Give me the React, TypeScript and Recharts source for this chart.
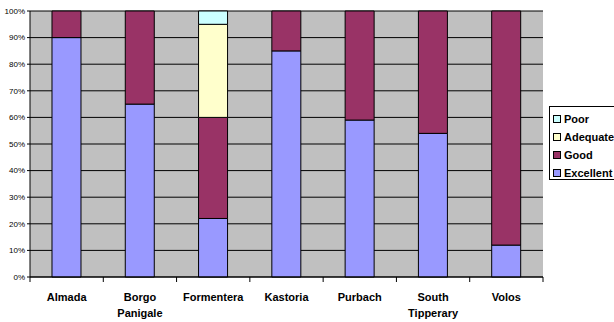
import React from 'react';
import { BarChart, Bar, XAxis, YAxis, CartesianGrid } from 'recharts';

const categories = ['Almada', 'Borgo Panigale', 'Formentera', 'Kastoria', 'Purbach', 'South Tipperary', 'Volos'];
const categoryLines: Record<string, string[]> = {
  'Almada': ['Almada'],
  'Borgo Panigale': ['Borgo', 'Panigale'],
  'Formentera': ['Formentera'],
  'Kastoria': ['Kastoria'],
  'Purbach': ['Purbach'],
  'South Tipperary': ['South', 'Tipperary'],
  'Volos': ['Volos'],
};
const excellent = [90, 65, 22, 85, 59, 54, 12];
const good = [10, 35, 38, 15, 41, 46, 88];
const adequate = [0, 0, 35, 0, 0, 0, 0];
const poor = [0, 0, 5, 0, 0, 0, 0];
const yTicks = [0, 10, 20, 30, 40, 50, 60, 70, 80, 90, 100];

const series = [
  { key: 'Excellent', values: excellent, color: '#9999FF' },
  { key: 'Good', values: good, color: '#993366' },
  { key: 'Adequate', values: adequate, color: '#FFFFCC' },
  { key: 'Poor', values: poor, color: '#CCFFFF' },
];

const data = categories.map((c, i) => {
  const row: Record<string, any> = { name: c };
  series.forEach((s) => (row[s.key] = s.values[i]));
  return row;
});

const FONT = 'Arial, "Liberation Sans", sans-serif';

const XTick = (props: any) => {
  const { x, y, payload, index } = props;
  const half = payload.offset || 0;
  const lines = categoryLines[payload.value] || [payload.value];
  return (
    <g>
      <line x1={x - half} x2={x - half} y1={y} y2={y + 5} stroke="#000" />
      {index === categories.length - 1 && (
        <line x1={x + half} x2={x + half} y1={y} y2={y + 5} stroke="#000" />
      )}
      {lines.map((l, i) => (
        <text
          key={i}
          x={x}
          y={y + 24 + i * 16}
          textAnchor="middle"
          fontFamily={FONT}
          fontWeight="bold"
          fontSize={11}
          fill="#000"
        >
          {l}
        </text>
      ))}
    </g>
  );
};

export default function App() {
  return (
    <div style={{ position: 'absolute', left: 0, top: 0, width: 614, height: 322, background: '#fff', overflow: 'hidden' }}>
      <BarChart
        width={614}
        height={322}
        data={data}
        margin={{ top: 11, right: 71, bottom: 0, left: 0 }}
        barCategoryGap="30%"
      >
        <CartesianGrid horizontal vertical={false} stroke="#000" fill="#C0C0C0" />
        <XAxis
          dataKey="name"
          axisLine={{ stroke: '#000' }}
          tickLine={false}
          tickSize={0}
          tickMargin={0}
          tick={<XTick />}
          interval={0}
          height={45}
        />
        <YAxis
          domain={[0, 100]}
          ticks={yTicks}
          width={30}
          tickSize={3}
          tickMargin={2}
          axisLine={{ stroke: '#000' }}
          tickLine={{ stroke: '#000' }}
          tickFormatter={(v: number) => `${v}%`}
          tick={{ fontSize: 8, fontFamily: FONT, fill: '#000' }}
        />
        {series.map((s) => (
          <Bar
            key={s.key}
            dataKey={s.key}
            stackId="a"
            fill={s.color}
            stroke="#000"
            strokeWidth={1}
            isAnimationActive={false}
          />
        ))}
      </BarChart>
      <div
        style={{
          position: 'absolute',
          left: 549,
          top: 106,
          width: 80,
          height: 74,
          border: '1px solid #000',
          background: '#fff',
          fontFamily: FONT,
          fontWeight: 'bold',
          fontSize: 11,
          boxSizing: 'border-box',
          paddingTop: 3,
          whiteSpace: 'nowrap',
        }}
      >
        {[...series].reverse().map((s) => (
          <div key={s.key} style={{ display: 'flex', alignItems: 'center', height: 18, paddingLeft: 3 }}>
            <span
              style={{
                display: 'inline-block',
                width: 6,
                height: 6,
                background: s.color,
                border: '1px solid #000',
                marginRight: 3,
                flexShrink: 0,
              }}
            />
            <span>{s.key}</span>
          </div>
        ))}
      </div>
    </div>
  );
}
